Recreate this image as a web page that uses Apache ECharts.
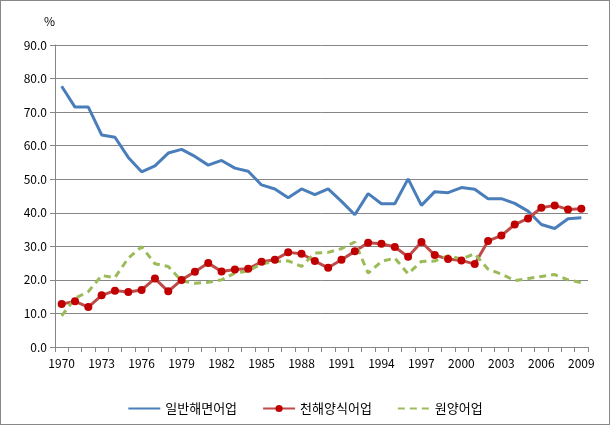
<!DOCTYPE html>
<html><head><meta charset="utf-8">
<script src="https://cdn.jsdelivr.net/npm/echarts@6/dist/echarts.min.js"></script>
<style>html,body{margin:0;padding:0;background:#fff}#c{width:610px;height:425px;box-sizing:border-box;border:1px solid #888}</style>
</head><body><div id="c"></div>
<script>
var years = [];
for (var y = 1970; y <= 2009; y++) years.push(String(y));
var names = ['일반해면어업', '천해양식어업', '원양어업'];
var general = [77.7,71.5,71.5,63.2,62.5,56.5,52.2,54.0,57.8,58.9,56.8,54.2,55.6,53.3,52.4,48.3,47.1,44.5,47.1,45.4,47.1,43.4,39.4,45.7,42.7,42.7,50.1,42.2,46.3,46.0,47.5,47.0,44.2,44.2,42.8,40.5,36.5,35.3,38.2,38.5];
var aqua = [12.8,13.6,11.9,15.4,16.8,16.4,17.0,20.4,16.6,20.0,22.4,25.0,22.5,23.1,23.3,25.4,26.0,28.2,27.8,25.6,23.6,26.0,28.5,31.1,30.8,29.8,26.9,31.3,27.4,26.2,25.8,24.7,31.6,33.2,36.5,38.3,41.5,42.2,41.0,41.2];
var distant = [9.3,14.5,16.5,21.3,20.7,26.5,29.9,24.8,24.0,19.7,19.0,19.3,20.0,22.0,22.6,24.8,25.4,25.7,24.0,28.0,28.2,29.3,31.3,22.0,25.5,26.5,21.8,25.5,25.6,27.2,26.2,27.8,23.2,21.7,19.8,20.4,21.0,21.6,20.0,19.2];
var chart = echarts.init(document.getElementById('c'));
var font = 'Noto Sans CJK KR';
chart.setOption({
  animation: false,
  textStyle: {fontFamily: font},
  grid: {left: 54, right: 21, top: 44, bottom: 77},
  legend: {
    bottom: 4, left: 'center', itemGap: 25, itemWidth: 32, itemHeight: 9,
    textStyle: {fontSize: 13, color: '#000', fontFamily: font},
    data: [
      {name: names[0], itemStyle: {opacity: 0}},
      {name: names[1]},
      {name: names[2], itemStyle: {opacity: 0}}
    ]
  },
  xAxis: {
    type: 'category', data: years, boundaryGap: true,
    axisLine: {lineStyle: {color: '#868686'}},
    axisTick: {show: true, interval: 0, length: 5, lineStyle: {color: '#868686'}},
    axisLabel: {interval: 2, color: '#000', fontSize: 12, margin: 10}
  },
  yAxis: {
    type: 'value', min: 0, max: 90, interval: 10,
    name: '%', nameLocation: 'end', nameGap: 18,
    nameTextStyle: {color: '#000', fontSize: 12, align: 'right'},
    axisLine: {show: true, lineStyle: {color: '#868686'}},
    axisTick: {show: true, length: 5, lineStyle: {color: '#868686'}},
    splitLine: {lineStyle: {color: '#868686'}},
    axisLabel: {color: '#000', fontSize: 12, formatter: function (v) { return v.toFixed(1); }}
  },
  series: [
    {name: names[0], type: 'line', data: general, symbol: 'none', showSymbol: false,
     lineStyle: {color: '#4a7ebb', width: 3}, itemStyle: {color: '#4a7ebb'}},
    {name: names[1], type: 'line', data: aqua, symbol: 'circle', symbolSize: 8,
     lineStyle: {color: '#be4b48', width: 3}, itemStyle: {color: '#c00000', borderWidth: 0}},
    {name: names[2], type: 'line', data: distant, symbol: 'none', showSymbol: false,
     lineStyle: {color: '#9bbb59', width: 3, type: [7, 5]}, itemStyle: {color: '#9bbb59'}}
  ]
});
</script></body></html>
